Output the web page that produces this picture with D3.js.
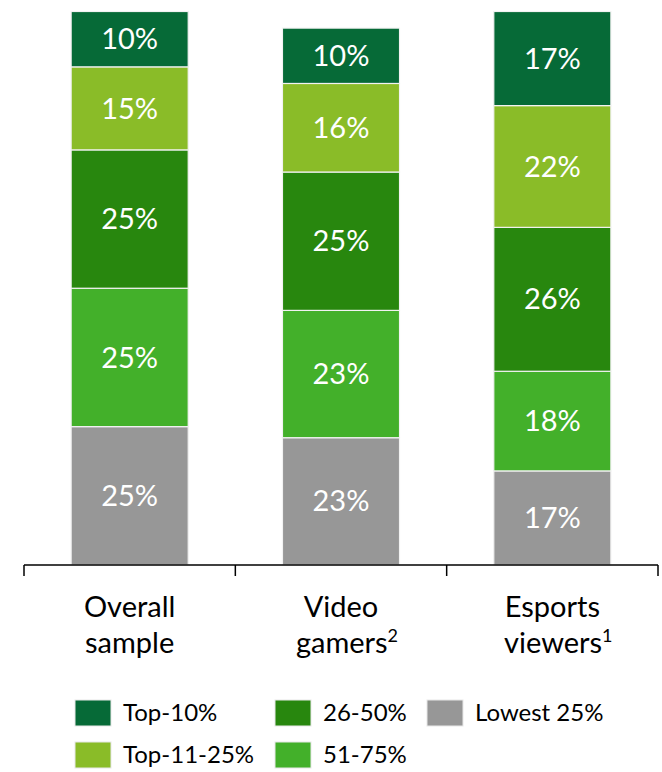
<!DOCTYPE html>
<html>
<head>
<meta charset="utf-8">
<script src="https://cdn.jsdelivr.net/npm/d3@7/dist/d3.min.js"></script>
<style>
  html, body { margin: 0; padding: 0; background: #fff; }
  svg { display: block; font-family: Lato, "Open Sans", sans-serif; }
</style>
</head>
<body>
<svg id="chart" width="662" height="772"></svg>
<script>
// Groups on the x axis (second line, superscript note)
const categories = ["Overall sample", "Video gamers", "Esports viewers"];
const categoryLines = [["Overall", "sample", ""], ["Video", "gamers", "2"], ["Esports", "viewers", "1"]];

// Stacked segments, bottom to top
const segments = ["Lowest 25%", "51-75%", "26-50%", "Top-11-25%", "Top-10%"];
const lowest25 = [25, 23, 17];
const p51to75  = [25, 23, 18];
const p26to50  = [25, 25, 26];
const top11to25 = [15, 16, 22];
const top10    = [10, 10, 17];

const colors = {
  "Top-10%": "#066a37",
  "Top-11-25%": "#8abc28",
  "26-50%": "#28870e",
  "51-75%": "#43b02a",
  "Lowest 25%": "#979797"
};

// Legend order (row by row)
const legendItems = ["Top-10%", "26-50%", "Lowest 25%", "Top-11-25%", "51-75%"];

const rows = categories.map((c, i) => ({
  category: c,
  "Lowest 25%": lowest25[i],
  "51-75%": p51to75[i],
  "26-50%": p26to50[i],
  "Top-11-25%": top11to25[i],
  "Top-10%": top10[i]
}));

const svg = d3.select("#chart");

const x = d3.scaleBand()
  .domain(categories)
  .range([24, 658])
  .paddingInner(0.446)
  .paddingOuter(0.223);

const y = d3.scaleLinear().domain([0, 100]).range([565, 11.5]);

const stack = d3.stack().keys(segments)(rows);

const layers = svg.append("g")
  .selectAll("g")
  .data(stack)
  .join("g")
  .attr("fill", d => colors[d.key]);

layers.selectAll("rect")
  .data(d => d)
  .join("rect")
  .attr("x", d => x(d.data.category))
  .attr("width", x.bandwidth())
  .attr("y", d => y(d[1]))
  .attr("height", d => y(d[0]) - y(d[1]))
  .attr("stroke", "#f2f2f2")
  .attr("stroke-width", 1.2);

layers.selectAll("text")
  .data(d => d)
  .join("text")
  .attr("x", d => x(d.data.category) + x.bandwidth() / 2)
  .attr("y", d => (y(d[0]) + y(d[1])) / 2)
  .attr("dy", "0.35em")
  .attr("text-anchor", "middle")
  .attr("fill", "#fff")
  .attr("font-size", 29)
  .text(d => `${d[1] - d[0]}%`);

// Baseline with group separators
const axis = svg.append("g");
axis.append("line")
  .attr("x1", x.range()[0]).attr("x2", x.range()[1])
  .attr("y1", y(0)).attr("y2", y(0))
  .attr("stroke", "#000").attr("stroke-width", 1.5);

const step = x.step();
const boundaries = d3.range(categories.length + 1).map(i => x.range()[0] + i * step);
axis.selectAll("line.tick")
  .data(boundaries)
  .join("line")
  .attr("class", "tick")
  .attr("x1", d => d).attr("x2", d => d)
  .attr("y1", y(0)).attr("y2", y(0) + 11)
  .attr("stroke", "#000").attr("stroke-width", 1.5);

const labels = axis.selectAll("text.cat")
  .data(categories)
  .join("text")
  .attr("class", "cat")
  .attr("text-anchor", "middle")
  .attr("font-size", 29)
  .attr("fill", "#000");

labels.each(function(c, i) {
  const t = d3.select(this);
  const cx = x(c) + x.bandwidth() / 2;
  const [l1, l2, sup] = categoryLines[i];
  t.append("tspan").attr("x", cx).attr("y", 617).text(l1);
  const second = t.append("tspan").attr("x", cx + (sup ? 6 : 0)).attr("y", 653);
  second.append("tspan").text(l2);
  if (sup) {
    second.append("tspan").attr("font-size", 18).attr("dy", -11).text(sup);
  }
});

// Legend
const legendPos = [
  { x: 75, y: 700 }, { x: 275, y: 700 }, { x: 427, y: 700 },
  { x: 75, y: 742 }, { x: 275, y: 742 }
];
const legend = svg.append("g")
  .selectAll("g")
  .data(legendItems)
  .join("g")
  .attr("transform", (d, i) => `translate(${legendPos[i].x},${legendPos[i].y})`);

legend.append("rect")
  .attr("width", 36).attr("height", 26)
  .attr("fill", d => colors[d])
  .attr("stroke", "#e8e8e8").attr("stroke-width", 1);

legend.append("text")
  .attr("x", 48)
  .attr("y", 13)
  .attr("dy", "0.35em")
  .attr("font-size", 24)
  .attr("fill", "#000")
  .text(d => d);
</script>
</body>
</html>
